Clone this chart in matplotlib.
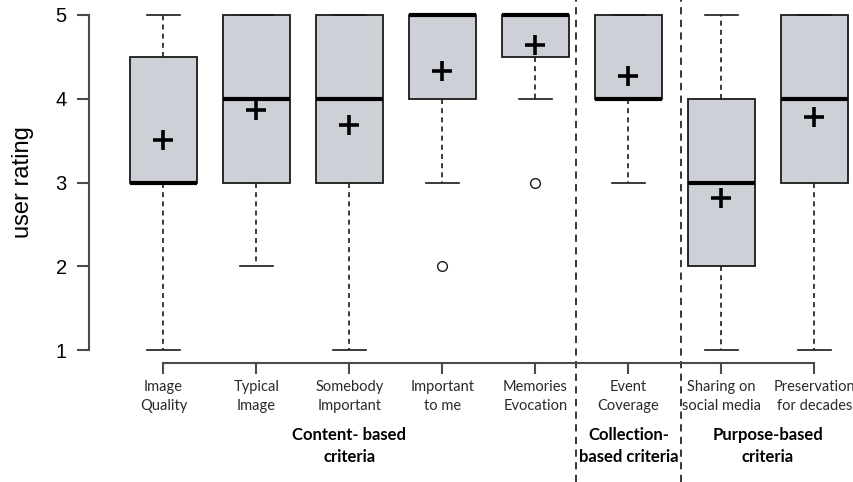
import matplotlib
matplotlib.use("Agg")
import matplotlib.pyplot as plt
from matplotlib.transforms import blended_transform_factory

# Rating summaries per criterion (1-5 scale)
categories = ["Image\nQuality", "Typical\nImage", "Somebody\nImportant", "Important\nto me",
              "Memories\nEvocation", "Event\nCoverage", "Sharing on\nsocial media",
              "Preservation\nfor decades"]
whisker_low = [1, 2, 1, 3, 4, 3, 1, 1]
q1 = [3, 3, 3, 4, 4.5, 4, 2, 3]
median = [3, 4, 4, 5, 5, 4, 3, 4]
q3 = [4.5, 5, 5, 5, 5, 5, 4, 5]
whisker_high = [5, 5, 5, 5, 5, 5, 5, 5]
means = [3.51, 3.87, 3.69, 4.33, 4.64, 4.27, 2.81, 3.78]
outliers = [[], [], [], [2], [3], [], [], []]

group_labels = ["Content- based\ncriteria", "Collection-\nbased criteria", "Purpose-based\ncriteria"]
group_centers = [3, 6, 7.5]
group_dividers = [5.44, 6.57]

fig = plt.figure(figsize=(8.54, 4.82), dpi=100)
ax = fig.add_axes([89 / 854, 1 - 363.4 / 482, 1 - 89 / 854, (363.4 - 1.6) / 482])

stats = []
for i in range(len(categories)):
    stats.append(dict(whislo=whisker_low[i], q1=q1[i], med=median[i], q3=q3[i],
                      whishi=whisker_high[i], mean=means[i], fliers=outliers[i]))

positions = list(range(1, len(categories) + 1))
ax.bxp(stats, positions=positions, widths=0.72, capwidths=0.36, patch_artist=True,
       showmeans=True, showfliers=True,
       boxprops=dict(facecolor="#cdd0d6", edgecolor="#1a1a1a", linewidth=1.3),
       medianprops=dict(color="black", linewidth=3.0),
       whiskerprops=dict(color="#1a1a1a", linewidth=1.2, linestyle=(0, (3, 2.5))),
       capprops=dict(color="#1a1a1a", linewidth=1.2),
       meanprops=dict(marker="+", markersize=14, markeredgewidth=2.6,
                      markeredgecolor="black", color="black"),
       flierprops=dict(marker="o", markersize=7, markerfacecolor="none",
                       markeredgecolor="#1a1a1a", markeredgewidth=1.0))

ax.set_xlim(0.2, 0.2 + 765 / 93)
ax.set_ylim(0.84, 5.16)

for s in ["top", "right"]:
    ax.spines[s].set_visible(False)
ax.spines["left"].set_bounds(1, 5)
ax.spines["bottom"].set_bounds(1, 8)
for s in ["left", "bottom"]:
    ax.spines[s].set_color("#4a4a4a")
    ax.spines[s].set_linewidth(1.5)

ax.set_yticks([1, 2, 3, 4, 5])
ax.set_yticklabels(["1", "2", "3", "4", "5"], fontfamily="Liberation Sans", fontsize=14.5)
ax.tick_params(axis="y", direction="out", length=9, width=1.5, color="#4a4a4a", pad=7)
ax.set_xticks(positions)
ax.set_xticklabels(categories, fontfamily="Lato", fontsize=10.5, color="#2a2a2a",
                   linespacing=1.45)
ax.tick_params(axis="x", direction="out", length=8, width=1.5, color="#4a4a4a", pad=4)

ax.set_ylabel("user rating", fontfamily="Liberation Sans", fontsize=17)
ax.yaxis.set_label_coords(-0.072, 0.5)

# Dashed separators between criterion groups, spanning the full figure height
trans = blended_transform_factory(ax.transData, fig.transFigure)
for xd in group_dividers:
    ax.plot([xd, xd], [0, 1], transform=trans, clip_on=False, color="#2e2424",
            linewidth=1.3, linestyle=(0, (4, 3)))

for xc, lab in zip(group_centers, group_labels):
    ax.text(xc, 1 - 446 / 482, lab, transform=trans, ha="center", va="center",
            fontfamily="Lato", fontweight="bold", fontsize=12, linespacing=1.4)

fig.savefig("out.png", dpi=100)
